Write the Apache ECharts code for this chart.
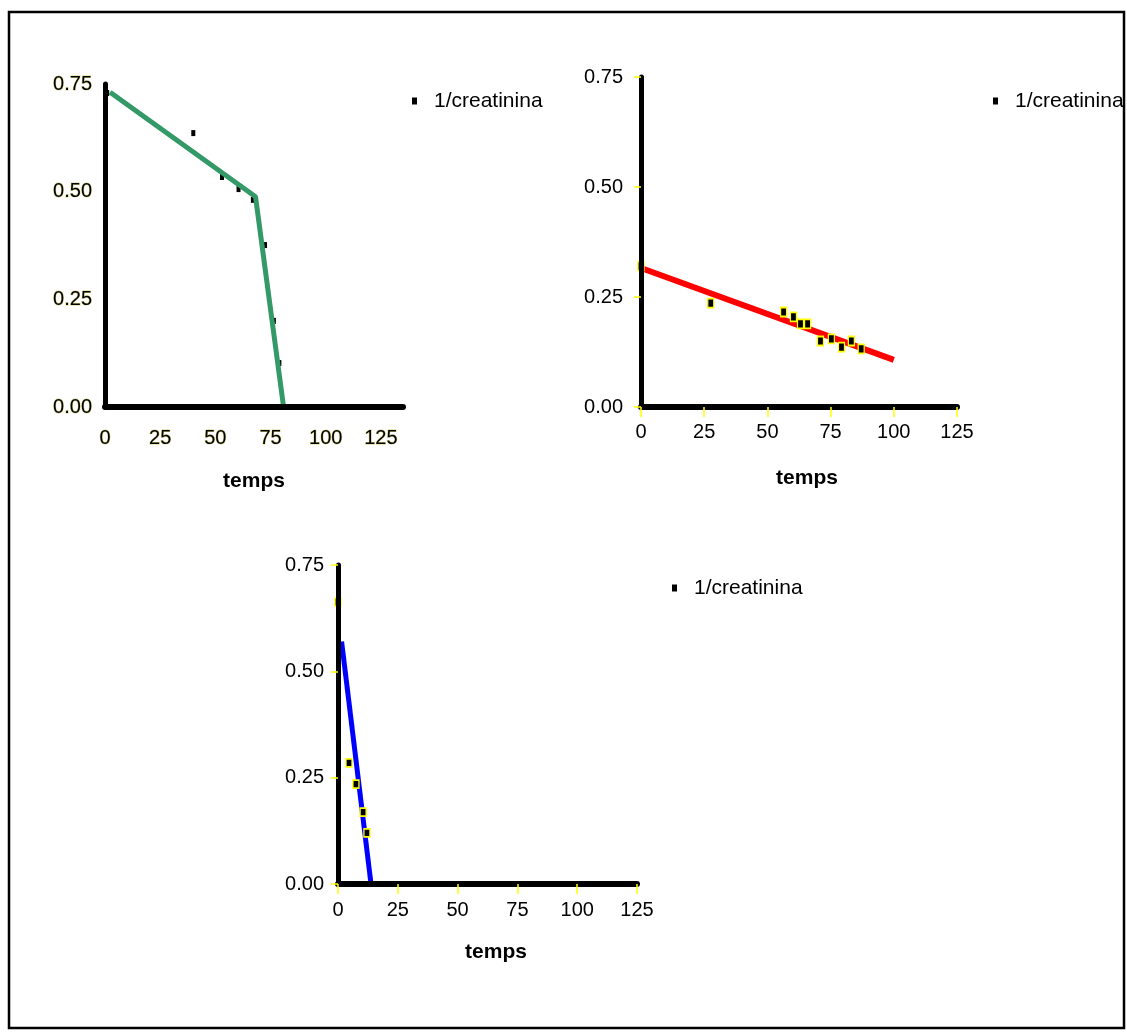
<!DOCTYPE html>
<html>
<head>
<meta charset="utf-8">
<script src="https://cdn.jsdelivr.net/npm/echarts@6/dist/echarts.min.js"></script>
<style>
  html, body { margin: 0; padding: 0; background: #fff; }
  #chart { width: 1127px; height: 1035px; }
</style>
</head>
<body>
<div id="chart"></div>
<script>
// ---- data ----
const legendName = '1/creatinina';
const axisTitle = 'temps';

// chart 1 (top-left)
const temps1 = [1, 40, 53, 60.5, 67, 72.5, 76.5, 79];
const creat1 = [0.729, 0.636, 0.534, 0.506, 0.481, 0.376, 0.200, 0.102];
const fitTemps1 = [2.3, 68.2, 80.9];
const fitVals1 = [0.731, 0.488, 0.0];

// chart 2 (top-right)
const temps2 = [0, 27.6, 56.4, 60.3, 63.1, 65.9, 71.0, 75.3, 79.3, 83.2, 87.1];
const creat2 = [0.32, 0.236, 0.216, 0.205, 0.189, 0.189, 0.150, 0.155, 0.136, 0.150, 0.132];
const fitTemps2 = [0, 100];
const fitVals2 = [0.316, 0.107];

// chart 3 (bottom)
const temps3 = [0, 4.6, 7.5, 10.5, 12.1];
const creat3 = [0.663, 0.285, 0.235, 0.169, 0.120];
const fitTemps3 = [1.5, 13.8];
const fitVals3 = [0.57, 0.0];

const xTicks = [0, 25, 50, 75, 100, 125];
const yTicks = [0, 0.25, 0.5, 0.75];

// ---- helpers ----
const FONT = "'Liberation Sans Narrow', 'Arial Narrow', 'Liberation Sans', Arial, sans-serif";
const pairs = (xs, ys) => xs.map((x, i) => [x, ys[i]]);

function xAxisCfg(gridIndex, max, margin, tickShow, nameGap, namePadLeft, halo) {
  return {
    type: 'value', gridIndex, min: 0, max, interval: 25, z: 5,
    axisLine: { show: true, onZero: false, lineStyle: { color: '#000', width: 6 } },
    axisTick: { show: tickShow, length: 10, lineStyle: { color: '#ffff00', width: 1.5 } },
    axisLabel: {
      margin, fontFamily: FONT, fontSize: 20, color: '#000', showMaxLabel: max === 125,
      textBorderColor: halo ? 'rgba(170,170,0,0.5)' : 'transparent', textBorderWidth: halo ? 1 : 0,
      formatter: v => xTicks.includes(v) ? String(v) : ''
    },
    splitLine: { show: false },
    name: axisTitle, nameLocation: 'middle', nameGap,
    nameTextStyle: { fontFamily: FONT, fontSize: 21, fontWeight: 'bold', color: '#000', padding: [0, 0, 0, namePadLeft], lineHeight: 21 }
  };
}
function yAxisCfg(gridIndex, margin, tickShow, halo) {
  return {
    type: 'value', gridIndex, min: 0, max: 0.75, interval: 0.25, z: 5,
    axisLine: { show: true, onZero: false, lineStyle: { color: '#000', width: 5 } },
    axisTick: { show: tickShow, length: 7, lineStyle: { color: '#ffff00', width: 1.5 } },
    axisLabel: {
      margin, fontFamily: FONT, fontSize: 20, color: '#000',
      textBorderColor: halo ? 'rgba(170,170,0,0.5)' : 'transparent', textBorderWidth: halo ? 1 : 0,
      formatter: v => yTicks.some(t => Math.abs(t - v) < 1e-9) ? v.toFixed(2) : ''
    },
    splitLine: { show: false }
  };
}
function legendCfg(left, top) {
  return {
    left, top, padding: 0, orient: 'horizontal',
    data: [legendName], icon: 'rect', itemWidth: 5, itemHeight: 7,
    itemStyle: { color: '#000', borderWidth: 0 },
    selectedMode: false,
    textStyle: { fontFamily: FONT, fontSize: 21, color: '#000', lineHeight: 24, padding: [0, 0, 0, 12] }
  };
}

const option = {
  animation: false,
  backgroundColor: '#fff',
  grid: [
    { left: 105, top: 84, width: 298, height: 323 },
    { left: 641, top: 77, width: 316, height: 330 },
    { left: 338, top: 565, width: 299, height: 319 }
  ],
  xAxis: [
    xAxisCfg(0, 135, 21, false, 63.5, 0, true),
    xAxisCfg(1, 125, 15, true, 60.5, 16, false),
    xAxisCfg(2, 125, 16, true, 57.5, 17, false)
  ],
  yAxis: [
    yAxisCfg(0, 13, false, true),
    yAxisCfg(1, 18, true, false),
    yAxisCfg(2, 14, true, false)
  ],
  legend: [legendCfg(412, 89), legendCfg(993, 89), legendCfg(672, 576)],
  graphic: [{
    type: 'rect', silent: true, z: 100,
    shape: { x: 9, y: 12, width: 1115, height: 1016 },
    style: { fill: 'none', stroke: '#000', lineWidth: 2.5 }
  }],
  series: [
    { name: legendName, type: 'scatter', xAxisIndex: 0, yAxisIndex: 0, z: 2,
      symbol: 'rect', symbolSize: [4, 6], itemStyle: { color: '#000', opacity: 1 },
      data: pairs(temps1, creat1) },
    { name: 'fit1', type: 'line', xAxisIndex: 0, yAxisIndex: 0, z: 3, showSymbol: false,
      lineStyle: { color: '#339966', width: 5 }, data: pairs(fitTemps1, fitVals1) },

    { name: 'fit2', type: 'line', xAxisIndex: 1, yAxisIndex: 1, z: 2, showSymbol: false,
      lineStyle: { color: '#ff0000', width: 6 }, data: pairs(fitTemps2, fitVals2) },
    { name: legendName, type: 'scatter', xAxisIndex: 1, yAxisIndex: 1, z: 3,
      symbol: 'rect', symbolSize: [6, 9], itemStyle: { color: '#000', borderColor: '#ffff00', borderWidth: 1.5, opacity: 1 },
      data: pairs(temps2, creat2) },

    { name: 'fit3', type: 'line', xAxisIndex: 2, yAxisIndex: 2, z: 2, showSymbol: false,
      lineStyle: { color: '#0000ff', width: 5 }, data: pairs(fitTemps3, fitVals3) },
    { name: legendName, type: 'scatter', xAxisIndex: 2, yAxisIndex: 2, z: 3,
      symbol: 'rect', symbolSize: [6, 8], itemStyle: { color: '#000', borderColor: '#ffff00', borderWidth: 1.5, opacity: 1 },
      data: pairs(temps3, creat3) }
  ]
};

const chart = echarts.init(document.getElementById('chart'), null, { renderer: 'canvas' });
chart.setOption(option);
</script>
</body>
</html>
